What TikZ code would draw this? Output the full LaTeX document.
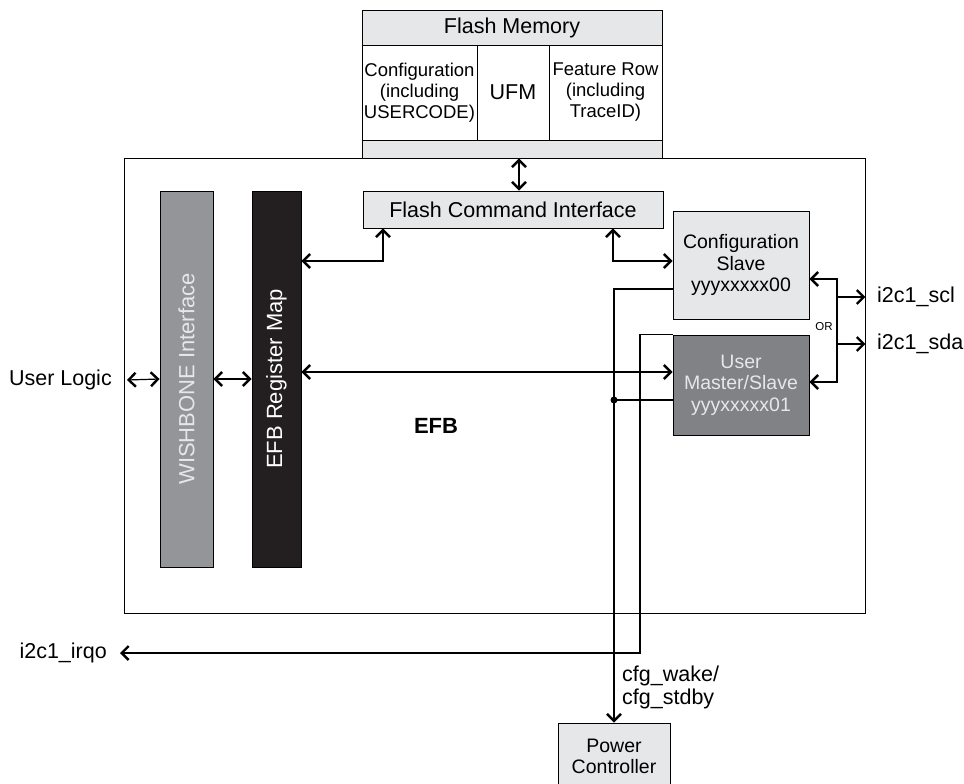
\documentclass[tikz,border=0pt]{standalone}
\usepackage{fontspec}
\setmainfont{Liberation Sans}
\usetikzlibrary{arrows.meta}
\definecolor{efblight}{RGB}{230,231,232}
\definecolor{efbmid}{RGB}{147,149,152}
\definecolor{efbdark}{RGB}{128,130,133}
\definecolor{efbblack}{RGB}{35,31,32}
\tikzset{
  barb/.tip={Straight Barb[length=7pt,width=14pt,line width=2.4pt]},
  blk/.style={draw,line width=0.9pt,inner sep=0pt,align=center},
  txtL/.style={font=\fontsize{22}{25}\selectfont},
  txtM/.style={font=\fontsize{21.5}{23}\selectfont},
  txtS/.style={font=\fontsize{19.5}{21.5}\selectfont},
  txtXS/.style={font=\fontsize{18.5}{21}\selectfont},
  lbl/.style={inner sep=2pt,align=left},
  wire/.style={line width=1.2pt},
}
\begin{document}
\begin{tikzpicture}[x=1pt,y=-1pt]
  \useasboundingbox (0,0) rectangle (964,784);
  \clip (0,0) rectangle (964,784);
  % EFB block
  \node[blk,minimum width=741pt,minimum height=455pt] (efb) at (494.5,385.5) {};
  \node[font=\fontsize{22}{25}\selectfont\bfseries] (efblabel) at (436,426) {EFB};
  %
  % Flash memory on top
  \node[blk,fill=efblight,minimum width=300pt,minimum height=148pt] (flash) at (512,84) {};
  \node[txtM] (flashtitle) at (512,28) {Flash Memory};
  \node[blk,fill=white,txtXS,minimum width=115pt,minimum height=95pt] (confrow) at (419.5,92.5) {Configuration\\(including\\USERCODE)};
  \node[blk,fill=white,txtM,minimum width=72pt,minimum height=95pt] (ufm) at (513,92.5) {UFM};
  \node[blk,fill=white,txtXS,minimum width=113pt,minimum height=95pt] (featrow) at (605.5,92.5) {Feature Row\\(including\\TraceID)};
  %
  % Vertical bars
  \node[blk,fill=efbmid,minimum width=53pt,minimum height=376pt,
    label={[rotate=90,text=efblight,txtL]center:WISHBONE Interface}] (wb) at (186.5,379) {};
  \node[blk,fill=efbblack,minimum width=49pt,minimum height=376pt,
    label={[rotate=90,text=white,txtL]center:EFB Register Map}] (regmap) at (276.5,379) {};
  %
  % Inner blocks
  \node[blk,fill=efblight,txtM,minimum width=300pt,minimum height=37pt] (fci) at (513,209.5) {Flash Command Interface};
  \node[blk,fill=efblight,txtS,minimum width=136pt,minimum height=108pt] (cfgs) at (741,265) {Configuration\\Slave\\yyyxxxxx00};
  \node[blk,fill=efbdark,text=efblight,txtS,minimum width=136pt,minimum height=100pt] (usr) at (741,385) {User\\Master/Slave\\yyyxxxxx01};
  \node[blk,fill=efblight,txtS,minimum width=112pt,minimum height=67pt] (pwr) at (614,756.5) {Power\\Controller};
  %
  % Outside labels
  \node[lbl,txtM,anchor=east] (ulogic) at (114,380) {User Logic};
  \node[lbl,txtM,anchor=east] (irqo) at (109,653) {i2c1\_irqo};
  \node[lbl,txtM,anchor=west] (scl) at (875,297) {i2c1\_scl};
  \node[lbl,txtM,anchor=west] (sda) at (875,344) {i2c1\_sda};
  \node[lbl,font=\fontsize{11.5}{13}\selectfont] (orlabel) at (824,327) {OR};
  \node[lbl,txtM,anchor=north west] (wake) at (620,664) {cfg\_wake/\\cfg\_stdby};
  \coordinate (junc) at (614,400);
  %
  % Connectors
  \draw[wire,barb-barb] ([xshift=7pt]flash.south) -- ([xshift=7pt]flash.south |- fci.north);
  \draw[wire,barb-barb] ([xshift=13pt]ulogic.east) -- (wb.west);
  \draw[wire,barb-barb] (wb.east) -- (regmap.west);
  \draw[wire,barb-barb] (regmap.east |- 0,261) -| (383,0 |- fci.south);
  \draw[wire,barb-barb] (613,0 |- fci.south) |- (cfgs.west |- 0,261);
  \draw[wire,barb-barb] (regmap.east |- 0,372) -- (usr.west |- 0,372);
  \draw[wire,barb-barb] (cfgs.east |- 0,279) -| (837,382) -- (usr.east |- 0,382);
  \draw[wire,-barb] (837,0 |- scl.west) -- (efb.east |- scl.west);
  \draw[wire,-barb] (837,0 |- sda.west) -- (efb.east |- sda.west);
  \draw[wire,-barb] (cfgs.west |- 0,289) -| (pwr.north);
  \draw[wire] (usr.west |- junc) -- (junc);
  \fill (junc) circle (3.5pt);
  \draw[wire,-barb] (usr.north west) -| (640,653) -- ([xshift=11pt]irqo.east);
\end{tikzpicture}
\end{document}
